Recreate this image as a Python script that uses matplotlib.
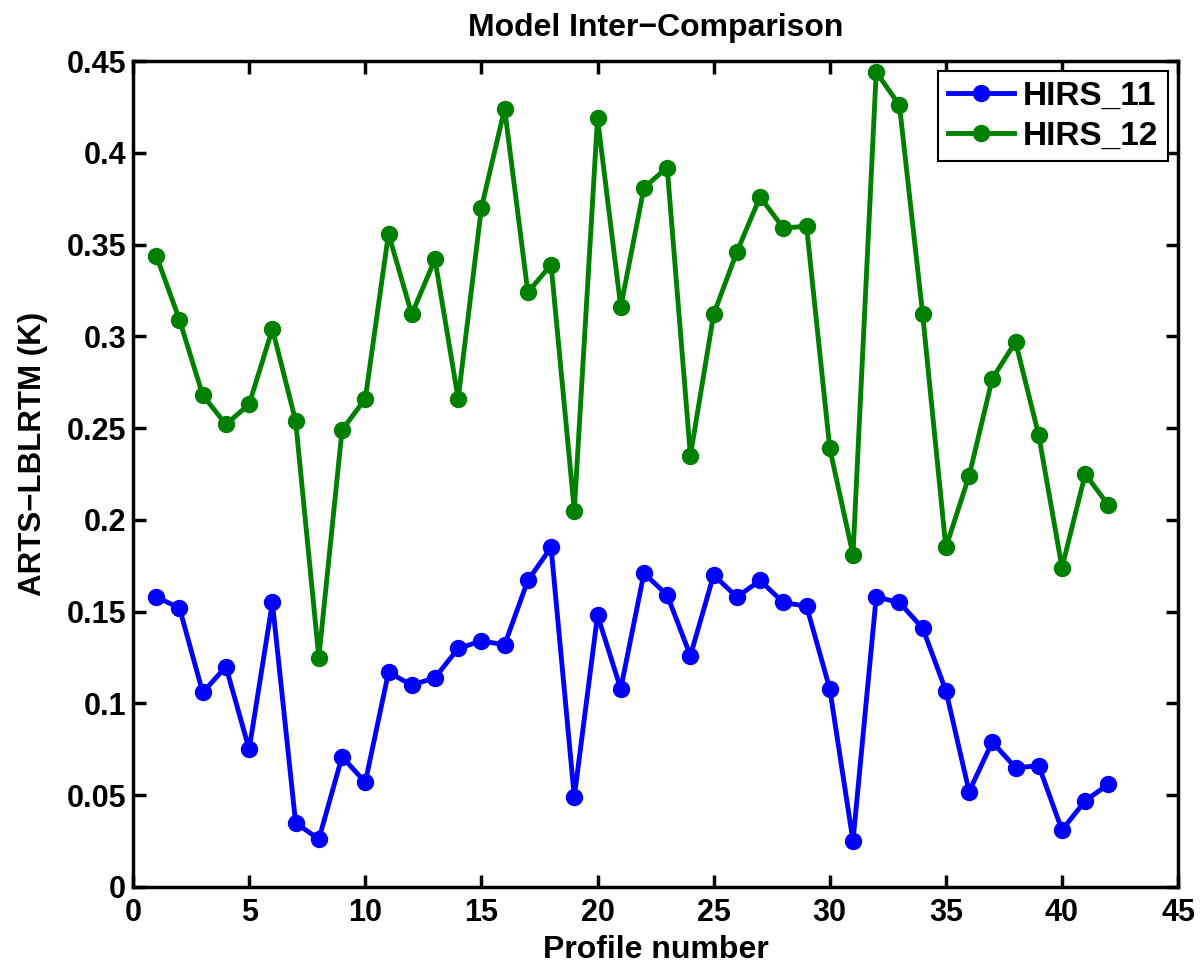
from matplotlib import pyplot as plt
import numpy as np

# Profile numbers and model differences (K) for the two HIRS channels
profile_number = np.arange(1, 43)

hirs_11 = [0.158, 0.152, 0.106, 0.120, 0.075, 0.155, 0.035, 0.026, 0.071, 0.057,
           0.117, 0.110, 0.114, 0.130, 0.134, 0.132, 0.167, 0.185, 0.049, 0.148,
           0.108, 0.171, 0.159, 0.126, 0.170, 0.158, 0.167, 0.155, 0.153, 0.108,
           0.025, 0.158, 0.155, 0.141, 0.107, 0.052, 0.079, 0.065, 0.066, 0.031,
           0.047, 0.056]

hirs_12 = [0.344, 0.309, 0.268, 0.252, 0.263, 0.304, 0.254, 0.125, 0.249, 0.266,
           0.356, 0.312, 0.342, 0.266, 0.370, 0.424, 0.324, 0.339, 0.205, 0.419,
           0.316, 0.381, 0.392, 0.235, 0.312, 0.346, 0.376, 0.359, 0.360, 0.239,
           0.181, 0.444, 0.426, 0.312, 0.185, 0.224, 0.277, 0.297, 0.246, 0.174,
           0.225, 0.208]

x_ticks = [0, 5, 10, 15, 20, 25, 30, 35, 40, 45]
y_ticks = [0, 0.05, 0.1, 0.15, 0.2, 0.25, 0.3, 0.35, 0.4, 0.45]
y_tick_labels = ["0", "0.05", "0.1", "0.15", "0.2", "0.25", "0.3", "0.35", "0.4", "0.45"]


def make_plot():
    """Draw the model inter-comparison chart and save it to out.png."""
    plt.rcParams['font.family'] = ['Liberation Sans', 'DejaVu Sans']
    plt.rcParams['font.weight'] = 'bold'

    fig = plt.figure(figsize=(12.04, 9.66), dpi=100)
    ax = fig.add_axes([0.1105, 0.0818, 0.868, 0.855])

    ax.plot(profile_number, hirs_11, color=(0, 0, 1), lw=3.5, marker='o',
            markersize=11.5, label='HIRS_11')
    ax.plot(profile_number, hirs_12, color=(0, 0.5, 0), lw=3.5, marker='o',
            markersize=11.5, label='HIRS_12')

    ax.set_xlim(0, 45)
    ax.set_ylim(0, 0.45)
    ax.set_xticks(x_ticks)
    ax.set_yticks(y_ticks)
    ax.set_yticklabels(y_tick_labels)

    ax.tick_params(direction='in', length=9, width=2.5, labelsize=22,
                   top=True, right=True)
    ax.tick_params(axis='x', pad=8)
    ax.tick_params(axis='y', pad=5)
    for spine in ax.spines.values():
        spine.set_linewidth(2.5)

    ax.set_title('Model Inter\u2212Comparison', fontsize=23, fontweight='bold', pad=18)
    ax.set_xlabel('Profile number', fontsize=23, fontweight='bold', labelpad=5)
    ax.set_ylabel('ARTS\u2212LBLRTM (K)', fontsize=22.5, fontweight='bold')
    ax.yaxis.set_label_coords(-0.081, 0.524)

    leg = ax.legend(loc='upper right', fontsize=24, fancybox=False, framealpha=1,
                    handlelength=2.0, borderaxespad=0.3, handletextpad=0.25,
                    borderpad=0.3, labelspacing=0.25)
    leg.get_frame().set_edgecolor('k')
    leg.get_frame().set_linewidth(1.5)

    fig.savefig('out.png', dpi=100)


if __name__ == "__main__":
    make_plot()
